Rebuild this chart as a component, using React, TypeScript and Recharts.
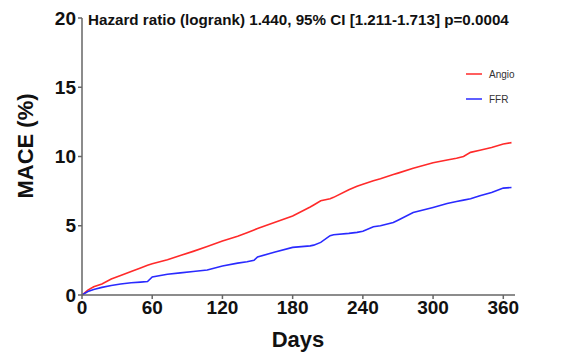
import { LineChart, Line, XAxis, YAxis } from "recharts";

// days since index procedure
const days = [0, 5, 10, 17, 25, 33, 42, 50, 56, 60, 73, 84, 95, 107, 120, 133, 141, 147, 150, 165, 180, 195, 198, 204, 212, 215, 228, 235, 240, 249, 255, 266, 270, 283, 300, 312, 320, 326, 332, 340, 350, 360, 367];
// cumulative MACE (%)
const angio = [0, 0.35, 0.6, 0.8, 1.15, 1.4, 1.7, 1.95, 2.15, 2.25, 2.55, 2.85, 3.15, 3.5, 3.9, 4.25, 4.5, 4.7, 4.8, 5.25, 5.7, 6.35, 6.5, 6.8, 6.95, 7.05, 7.6, 7.85, 8.0, 8.25, 8.4, 8.7, 8.8, 9.15, 9.55, 9.75, 9.88, 10.0, 10.3, 10.45, 10.65, 10.9, 11.0];
const ffr = [0, 0.25, 0.4, 0.55, 0.68, 0.79, 0.88, 0.93, 0.97, 1.3, 1.5, 1.6, 1.7, 1.8, 2.1, 2.3, 2.4, 2.5, 2.75, 3.1, 3.44, 3.55, 3.6, 3.8, 4.28, 4.35, 4.45, 4.52, 4.6, 4.93, 5.0, 5.24, 5.4, 5.95, 6.32, 6.6, 6.75, 6.85, 6.95, 7.16, 7.4, 7.72, 7.76];

const xTicks = [0, 60, 120, 180, 240, 300, 360];
const yTicks = [0, 5, 10, 15, 20];
const title = "Hazard ratio (logrank) 1.440, 95% CI [1.211-1.713] p=0.0004";
const series = [
  { name: "Angio", color: "#ff2a2a" },
  { name: "FFR", color: "#2a2aff" },
];

const data = days.map((d, i) => ({ day: d, Angio: angio[i], FFR: ffr[i] }));

const font = "Liberation Sans, Arial, sans-serif";

export default function App() {
  return (
    <div style={{ position: "absolute", left: 0, top: 0, width: 567, height: 352, background: "#fff" }}>
      <LineChart width={567} height={352} data={data} margin={{ top: 18, right: 52, bottom: 0, left: 0 }}>
        <XAxis
          dataKey="day"
          type="number"
          domain={[0, 370]}
          ticks={xTicks}
          height={57}
          stroke="#666"
          strokeWidth={1.5}
          tickSize={4}
          tick={{ fill: "#111", fontSize: 19, fontWeight: "bold", fontFamily: font }}
        />
        <YAxis
          type="number"
          domain={[0, 20]}
          ticks={yTicks}
          width={82}
          stroke="#666"
          strokeWidth={1.5}
          tickSize={4}
          tick={{ fill: "#111", fontSize: 19, fontWeight: "bold", fontFamily: font }}
        />
        {series.map((s) => (
          <Line key={s.name} dataKey={s.name} stroke={s.color} strokeWidth={1.6} dot={false} isAnimationActive={false} />
        ))}
        <text x={298} y={347} textAnchor="middle" fontFamily={font} fontSize={22} fontWeight="bold" fill="#111">
          Days
        </text>
        <text x={33} y={146} transform="rotate(-90, 33, 146)" textAnchor="middle" fontFamily={font} fontSize={22} fontWeight="bold" fill="#111">
          MACE (%)
        </text>
        <text x={88} y={25} fontFamily={font} fontSize={15.2} fontWeight="bold" fill="#111">
          {title}
        </text>
        {series.map((s, i) => (
          <g key={s.name} transform={`translate(466, ${74 + i * 25})`}>
            <line x1={0} x2={16} y1={0} y2={0} stroke={s.color} strokeWidth={1.5} />
            <text x={23} y={3.5} fontFamily={font} fontSize={10} fill="#333">
              {s.name}
            </text>
          </g>
        ))}
      </LineChart>
    </div>
  );
}
